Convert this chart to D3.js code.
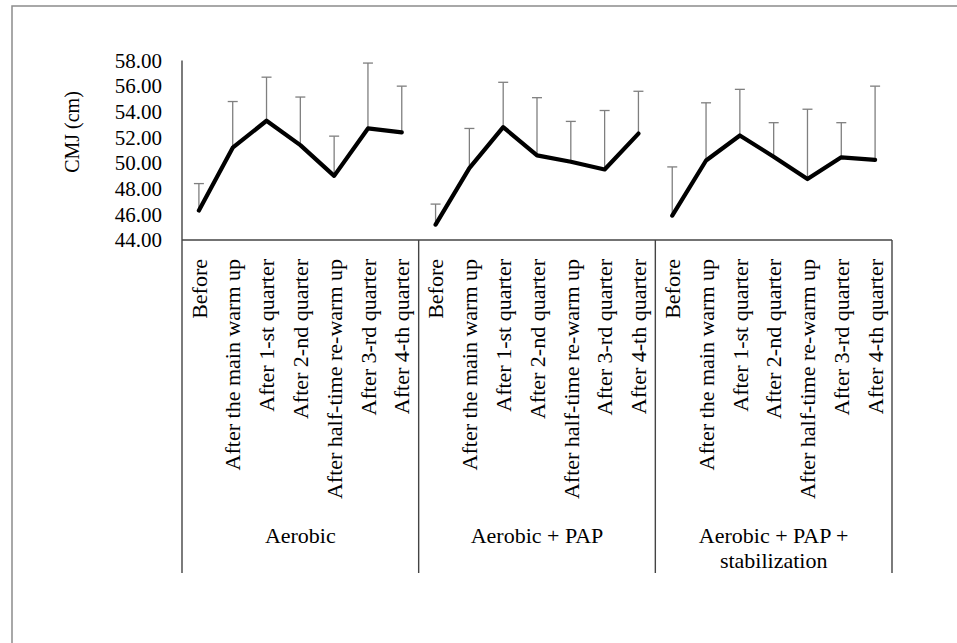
<!DOCTYPE html>
<html>
<head>
<meta charset="utf-8">
<script src="https://cdn.jsdelivr.net/npm/d3@7"></script>
<style>
  body { margin: 0; background: #fff; }
  text { font-family: "Liberation Serif", "Times New Roman", serif; fill: #000; }
</style>
</head>
<body>
<svg width="957" height="643"></svg>
<script>
// groups and time points
const groups = ['Aerobic', 'Aerobic + PAP', 'Aerobic + PAP + stabilization'];
const groupLines = [['Aerobic'], ['Aerobic + PAP'], ['Aerobic + PAP +', 'stabilization']];
const timePoints = ['Before', 'After the main warm up', 'After 1-st quarter', 'After 2-nd quarter',
  'After half-time re-warm up', 'After 3-rd quarter', 'After 4-th quarter'];

// mean CMJ (cm) per group
const meanAerobic = [46.3, 51.2, 53.3, 51.4, 49.0, 52.7, 52.4];
const meanPAP = [45.2, 49.6, 52.8, 50.6, 50.1, 49.5, 52.3];
const meanStab = [45.9, 50.2, 52.15, 50.5, 48.75, 50.45, 50.25];

// standard deviations (upper error bars)
const sdAerobic = [2.1, 3.6, 3.4, 3.75, 3.1, 5.1, 3.6];
const sdPAP = [1.6, 3.1, 3.5, 4.5, 3.15, 4.6, 3.3];
const sdStab = [3.8, 4.5, 3.6, 2.65, 5.45, 2.7, 5.75];

const yTicks = [44, 46, 48, 50, 52, 54, 56, 58];

const means = [meanAerobic, meanPAP, meanStab];
const sds = [sdAerobic, sdPAP, sdStab];

const svg = d3.select('svg');

// outer chart border (only top and left fall inside the picture)
svg.append('rect')
  .attr('x', 12).attr('y', 6)
  .attr('width', 1000).attr('height', 700)
  .attr('fill', 'none')
  .attr('stroke', '#8c8c8c')
  .attr('stroke-width', 1.5);

const plotLeft = 182, plotRight = 892, plotTop = 60.5, axisY = 240, plotBottom = 573;

const keys = [];
groups.forEach((g, gi) => timePoints.forEach((t, ti) => keys.push(gi + '|' + ti)));

const x = d3.scaleBand().domain(keys).range([plotLeft, plotRight]);
const y = d3.scaleLinear().domain([44, 58]).range([axisY, plotTop]);
const cx = k => x(k) + x.bandwidth() / 2;

// y axis labels
svg.append('g').selectAll('text')
  .data(yTicks)
  .enter().append('text')
    .attr('x', plotLeft - 20)
    .attr('y', d => y(d))
    .attr('dy', '0.35em')
    .attr('text-anchor', 'end')
    .style('font-size', '21px')
    .text(d => d.toFixed(2));

svg.append('text')
  .attr('transform', `translate(72,132) rotate(-90)`)
  .attr('text-anchor', 'middle')
  .attr('dy', '0.35em')
  .style('font-size', '20px')
  .text('CMJ (cm)');

// axis frame
const axisColor = '#444';
svg.append('line')
  .attr('x1', plotLeft).attr('x2', plotLeft)
  .attr('y1', plotTop).attr('y2', plotBottom)
  .attr('stroke', axisColor).attr('stroke-width', 1.4);
svg.append('line')
  .attr('x1', plotLeft).attr('x2', plotRight)
  .attr('y1', axisY).attr('y2', axisY)
  .attr('stroke', axisColor).attr('stroke-width', 1.4);

const groupEdges = groups.map((g, gi) => x(gi + '|' + (timePoints.length - 1)) + x.bandwidth());
svg.append('g').selectAll('line')
  .data(groupEdges)
  .enter().append('line')
    .attr('x1', d => d).attr('x2', d => d)
    .attr('y1', axisY).attr('y2', plotBottom)
    .attr('stroke', axisColor).attr('stroke-width', 1.4);

// category labels
svg.append('g').selectAll('text')
  .data(keys)
  .enter().append('text')
    .attr('transform', d => `translate(${cx(d)},${axisY + 19}) rotate(-90)`)
    .attr('text-anchor', 'end')
    .attr('dy', '0.35em')
    .style('font-size', '22px')
    .text(d => timePoints[+d.split('|')[1]]);

// group labels
groups.forEach((g, gi) => {
  const x0 = x(gi + '|0');
  const mid = (x0 + groupEdges[gi]) / 2;
  const t = svg.append('text')
    .attr('text-anchor', 'middle')
    .style('font-size', '22px');
  groupLines[gi].forEach((line, li) => {
    t.append('tspan')
      .attr('x', mid)
      .attr('y', 543 + li * 25)
      .text(line);
  });
});

// error bars (upper only) and mean lines
groups.forEach((g, gi) => {
  const data = timePoints.map((t, ti) => ({
    k: gi + '|' + ti, m: means[gi][ti], sd: sds[gi][ti]
  }));
  const eb = svg.append('g')
    .attr('stroke', '#7f7f7f')
    .attr('stroke-width', 1.3);
  eb.selectAll('.stem').data(data)
    .enter().append('line')
      .attr('class', 'stem')
      .attr('x1', d => cx(d.k)).attr('x2', d => cx(d.k))
      .attr('y1', d => y(d.m)).attr('y2', d => y(d.m + d.sd));
  eb.selectAll('.cap').data(data)
    .enter().append('line')
      .attr('class', 'cap')
      .attr('x1', d => cx(d.k) - 5).attr('x2', d => cx(d.k) + 5)
      .attr('y1', d => y(d.m + d.sd)).attr('y2', d => y(d.m + d.sd));

  svg.append('path')
    .datum(data)
    .attr('fill', 'none')
    .attr('stroke', '#000')
    .attr('stroke-width', 4.2)
    .attr('stroke-linejoin', 'round')
    .attr('stroke-linecap', 'round')
    .attr('d', d3.line().x(d => cx(d.k)).y(d => y(d.m)));
});
</script>
</body>
</html>
